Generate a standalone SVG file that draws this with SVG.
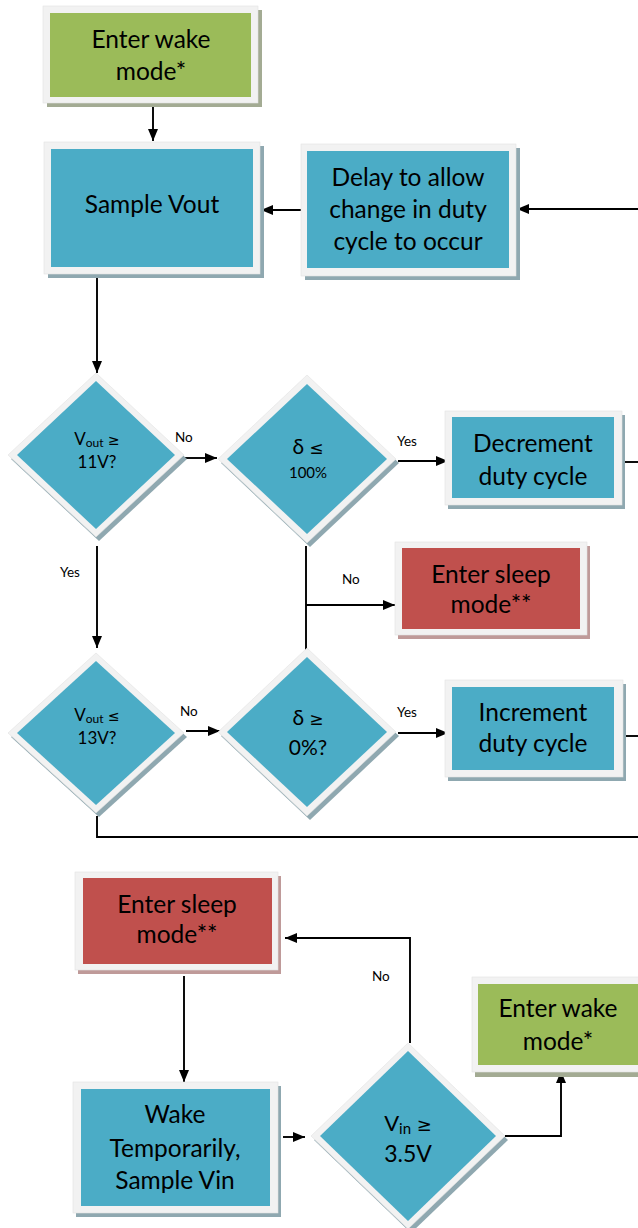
<svg xmlns="http://www.w3.org/2000/svg" width="638" height="1228" viewBox="0 0 638 1228">
<style>
.frame{fill:#f2f2f2;stroke:#e2e2e2;stroke-width:0.6}
.teal{fill:#4bacc6}
.green{fill:#9bbb59}
.red{fill:#c0504d}
.shT{fill:#8fa8b0}
.shG{fill:#a3ab93}
.shR{fill:#bf9a99}
.t{font-family:Lato,"Open Sans",sans-serif;fill:#000;text-anchor:middle}
.big{font-size:24.5px}
.sym{font-family:"DejaVu Sans",sans-serif}
.lbl{font-family:Lato,"Open Sans",sans-serif;font-size:13.5px;fill:#000}
.ln{fill:none;stroke:#000;stroke-width:1.9}
</style>
<defs>
<marker id="ar" markerUnits="userSpaceOnUse" markerWidth="13" markerHeight="13" viewBox="0 0 13 13" refX="12" refY="6.5" orient="auto">
<path d="M0,1.5 L12,6.5 L0,11.5 Z" fill="#000"/>
</marker>
</defs>

<g id="connectors">
<path class="ln" d="M153,107 V141" marker-end="url(#ar)"/>
<path class="ln" d="M301,210 H261" marker-end="url(#ar)"/>
<path class="ln" d="M638,209 H517" marker-end="url(#ar)"/>
<path class="ln" d="M97,278 V373" marker-end="url(#ar)"/>
<path class="ln" d="M185,458 H217" marker-end="url(#ar)"/>
<path class="ln" d="M398,461 H448" marker-end="url(#ar)"/>
<path class="ln" d="M625,462 H638"/>
<path class="ln" d="M306,546 V650"/>
<path class="ln" d="M306,605 H395" marker-end="url(#ar)"/>
<path class="ln" d="M97,546 V648" marker-end="url(#ar)"/>
<path class="ln" d="M186,731 H220" marker-end="url(#ar)"/>
<path class="ln" d="M398,733 H448" marker-end="url(#ar)"/>
<path class="ln" d="M625,736 H638"/>
<path class="ln" d="M97,816 V837 H638"/>
<path class="ln" d="M410,1043 V938 H285" marker-end="url(#ar)"/>
<path class="ln" d="M184,976 V1082" marker-end="url(#ar)"/>
<path class="ln" d="M283,1137 H305" marker-end="url(#ar)"/>
<path class="ln" d="M505,1136 H561 V1071" marker-end="url(#ar)"/>
<text class="lbl" x="175" y="442">No</text>
<text class="lbl" x="397" y="446">Yes</text>
<text class="lbl" x="342" y="584">No</text>
<text class="lbl" x="60" y="577">Yes</text>
<text class="lbl" x="180" y="716">No</text>
<text class="lbl" x="397" y="717">Yes</text>
<text class="lbl" x="372" y="981">No</text>
</g>

<g id="wake1">
<rect class="shG" x="47" y="10" width="215" height="97"/>
<rect class="frame" x="43" y="6" width="215" height="97"/>
<rect class="green" x="50" y="13" width="201" height="84"/>
<text class="t big" x="151" y="48">Enter wake</text>
<text class="t big" x="151" y="80">mode*</text>
</g>

<g id="sample">
<rect class="shT" x="48" y="146" width="216" height="132"/>
<rect class="frame" x="44" y="142" width="216" height="132"/>
<rect class="teal" x="51" y="149" width="202" height="118"/>
<text class="t big" x="152" y="213">Sample Vout</text>
</g>

<g id="delay">
<rect class="shT" x="305" y="148" width="215" height="132"/>
<rect class="frame" x="301" y="144" width="215" height="132"/>
<rect class="teal" x="307" y="151" width="202" height="117"/>
<text class="t big" x="408" y="186">Delay to allow</text>
<text class="t big" x="408" y="218">change in duty</text>
<text class="t big" x="408" y="250">cycle to occur</text>
</g>

<g id="d1">
<polygon class="shT" points="99,377 187,459 99,541 11,459"/>
<polygon class="frame" points="96,373 184,455 96,537 8,455"/>
<polygon class="teal" points="96,381 175,455 96,529 17,455"/>
<text class="t" x="97" y="445" font-size="17">V<tspan font-size="12" dy="2">out</tspan><tspan dy="-2"> </tspan><tspan class="sym" font-size="14">≥</tspan></text>
<text class="t" x="97" y="468" font-size="17">11V?</text>
</g>

<g id="d2">
<polygon class="shT" points="310,379 399,463 310,547 221,463"/>
<polygon class="frame" points="307,375 396,459 307,543 218,459"/>
<polygon class="teal" points="307,384 387,459 307,534 227,459"/>
<text class="t" x="308" y="454" font-size="21">δ <tspan class="sym" font-size="17">≤</tspan></text>
<text class="t" x="308" y="478" font-size="15">100%</text>
</g>

<g id="dec">
<rect class="shT" x="448" y="415" width="177" height="94"/>
<rect class="frame" x="445" y="411" width="177" height="94"/>
<rect class="teal" x="452" y="417" width="162" height="81"/>
<text class="t big" x="533" y="452">Decrement</text>
<text class="t big" x="533" y="485">duty cycle</text>
</g>

<g id="sleep1">
<rect class="shR" x="398" y="546" width="192" height="93"/>
<rect class="frame" x="395" y="542" width="192" height="93"/>
<rect class="red" x="402" y="548" width="178" height="81"/>
<text class="t big" x="491" y="583">Enter sleep</text>
<text class="t big" x="491" y="613">mode**</text>
</g>

<g id="d3">
<polygon class="shT" points="99,657 187,737 99,817 11,737"/>
<polygon class="frame" points="96,653 184,733 96,813 8,733"/>
<polygon class="teal" points="96,661 175,733 96,805 17,733"/>
<text class="t" x="97" y="721" font-size="17">V<tspan font-size="12" dy="2">out</tspan><tspan dy="-2"> </tspan><tspan class="sym" font-size="14">≤</tspan></text>
<text class="t" x="97" y="744" font-size="17">13V?</text>
</g>

<g id="d4">
<polygon class="shT" points="310,652 399,736 310,820 221,736"/>
<polygon class="frame" points="307,648 396,732 307,816 218,732"/>
<polygon class="teal" points="307,657 387,732 307,807 227,732"/>
<text class="t" x="308" y="725" font-size="21">δ <tspan class="sym" font-size="17">≥</tspan></text>
<text class="t" x="308" y="755" font-size="21">0%?</text>
</g>

<g id="inc">
<rect class="shT" x="448" y="684" width="178" height="97"/>
<rect class="frame" x="445" y="680" width="178" height="97"/>
<rect class="teal" x="452" y="687" width="162" height="83"/>
<text class="t big" x="533" y="721">Increment</text>
<text class="t big" x="533" y="752">duty cycle</text>
</g>

<g id="sleep2">
<rect class="shR" x="78" y="876" width="203" height="98"/>
<rect class="frame" x="75" y="872" width="203" height="98"/>
<rect class="red" x="83" y="878" width="189" height="86"/>
<text class="t big" x="177" y="913">Enter sleep</text>
<text class="t big" x="177" y="943">mode**</text>
</g>

<g id="wakeT">
<rect class="shT" x="76" y="1086" width="205" height="131"/>
<rect class="frame" x="73" y="1082" width="205" height="131"/>
<rect class="teal" x="81" y="1089" width="189" height="117"/>
<text class="t big" x="175" y="1123">Wake</text>
<text class="t big" x="175" y="1157">Temporarily,</text>
<text class="t big" x="175" y="1189">Sample Vin</text>
</g>

<g id="d5">
<polygon class="shT" points="411,1047 508,1140 411,1233 314,1140"/>
<polygon class="frame" points="408,1043 505,1136 408,1229 311,1136"/>
<polygon class="teal" points="408,1051 496,1136 408,1221 320,1136"/>
<text class="t" x="408" y="1131" font-size="22">V<tspan font-size="15" dy="3">in</tspan><tspan dy="-3"> </tspan><tspan class="sym" font-size="18">≥</tspan></text>
<text class="t" x="408" y="1162" font-size="23">3.5V</text>
</g>

<g id="wake2">
<rect class="shG" x="475" y="981" width="180" height="96"/>
<rect class="frame" x="472" y="977" width="180" height="95"/>
<rect class="green" x="478" y="984" width="170" height="81"/>
<text class="t big" x="558" y="1017">Enter wake</text>
<text class="t big" x="558" y="1050">mode*</text>
</g>
</svg>
